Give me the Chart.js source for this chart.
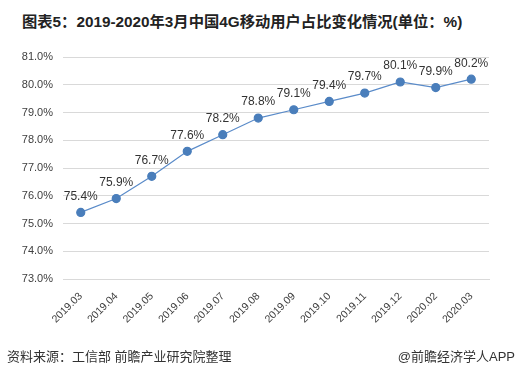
<!DOCTYPE html>
<html>
<head>
<meta charset="utf-8">
<script src="https://cdn.jsdelivr.net/npm/chart.js@4"></script>
<style>
  body { margin: 0; width: 517px; height: 377px; background: #fff; position: relative; overflow: hidden;
         font-family: "Liberation Sans", "Noto Sans CJK SC", sans-serif; }
  #title { position: absolute; left: 22px; top: 9px; font-size: 15.3px; font-weight: bold; color: #222; white-space: nowrap; }
  #src { position: absolute; left: 7px; top: 346px; font-size: 13px; color: #333; }
  #app { position: absolute; right: 2px; top: 346px; font-size: 13px; color: #333; }
  #wrap { position: absolute; left: 0; top: 0; width: 517px; height: 377px; }
</style>
</head>
<body>
<div id="title">图表5：2019-2020年3月中国4G移动用户占比变化情况(单位：%)</div>
<div id="wrap"><canvas id="lineChart"></canvas></div>
<div id="src">资料来源：工信部 前瞻产业研究院整理</div>
<div id="app">@前瞻经济学人APP</div>
<script>
// Data
const months = ['2019.03', '2019.04', '2019.05', '2019.06', '2019.07', '2019.08',
                '2019.09', '2019.10', '2019.11', '2019.12', '2020.02', '2020.03'];
const share = [75.4, 75.9, 76.7, 77.6, 78.2, 78.8, 79.1, 79.4, 79.7, 80.1, 79.9, 80.2];
const yMin = 73;
const yMax = 81;

// value labels above each point
const valueLabels = {
    id: 'valueLabels',
    afterDatasetsDraw(chart) {
        const c = chart.ctx;
        const meta = chart.getDatasetMeta(0);
        c.save();
        c.font = '12px "Liberation Sans", sans-serif';
        c.fillStyle = '#333';
        c.textAlign = 'center';
        c.textBaseline = 'middle';
        meta.data.forEach((pt, i) => {
            c.fillText(share[i].toFixed(1) + '%', pt.x, pt.y - 16);
        });
        c.restore();
    }
};

const ctx = document.getElementById('lineChart').getContext('2d');
new Chart(ctx, {
    type: 'line',
    data: {
        labels: months,
        datasets: [{
            data: share,
            borderColor: '#5a8bc9',
            borderWidth: 1.2,
            backgroundColor: '#4a7ebb',
            pointBackgroundColor: '#4a7ebb',
            pointBorderColor: '#4a7ebb',
            pointRadius: 4,
            tension: 0
        }]
    },
    options: {
        responsive: true,
        maintainAspectRatio: false,
        animation: false,
        layout: { padding: { left: 0, right: 28, top: 57, bottom: 0 } },
        plugins: {
            legend: { display: false },
            tooltip: { enabled: false }
        },
        scales: {
            x: {
                offset: true,
                grid: { display: false },
                border: { color: '#d9d9d9' },
                ticks: {
                    color: '#404040',
                    font: { size: 10.5, family: '"Liberation Sans", sans-serif' },
                    maxRotation: 45,
                    minRotation: 45,
                    autoSkip: false
                },
                afterFit(scale) { scale.height = 98; }
            },
            y: {
                min: yMin,
                max: yMax,
                grid: { color: '#d9d9d9', drawTicks: false },
                border: { display: false },
                ticks: {
                    stepSize: 1,
                    padding: 10,
                    color: '#404040',
                    font: { size: 11, family: '"Liberation Sans", sans-serif' },
                    callback: v => v.toFixed(1) + '%'
                },
                afterFit(scale) { scale.width = 63; }
            }
        }
    },
    plugins: [valueLabels]
});
</script>
</body>
</html>
